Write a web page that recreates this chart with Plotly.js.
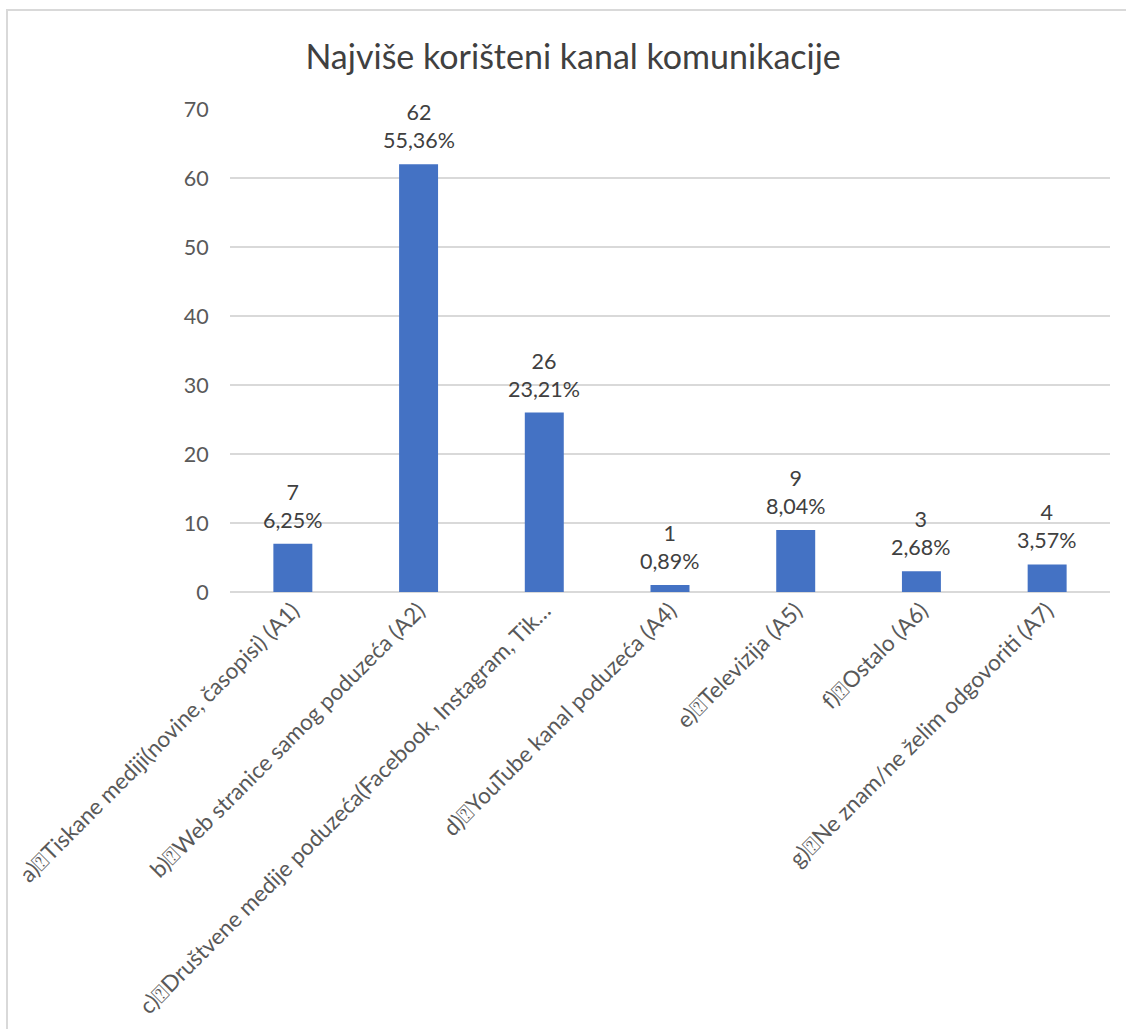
<!DOCTYPE html>
<html>
<head>
<meta charset="utf-8">
<script src="https://cdn.plot.ly/plotly-3.0.1.min.js"></script>
<style>
  html, body { margin: 0; padding: 0; width: 1126px; height: 1029px; overflow: hidden; background: #fff; }
  #frame { position: absolute; left: 6px; top: 9px; width: 1300px; height: 1200px; border: 2px solid #d9d9d9; box-sizing: border-box; }
  #chart { position: absolute; left: 0; top: 0; width: 1126px; height: 1029px; }
</style>
</head>
<body>
<div id="frame"></div>
<div id="chart"></div>
<script>
const chartTitle = "Najviše korišteni kanal komunikacije";
const categories = [
  "a)\u2370Tiskane mediji(novine, časopisi) (A1)",
  "b)\u2370Web stranice samog poduzeća (A2)",
  "c)\u2370Društvene medije poduzeća(Facebook, Instagram, Tik…",
  "d)\u2370YouTube kanal poduzeća (A4)",
  "e)\u2370Televizija (A5)",
  "f)\u2370Ostalo (A6)",
  "g)\u2370Ne znam/ne želim odgovoriti (A7)"
];
const counts = [7, 62, 26, 1, 9, 3, 4];
const percentLabels = ["6,25%", "55,36%", "23,21%", "0,89%", "8,04%", "2,68%", "3,57%"];
const yTicks = [0, 10, 20, 30, 40, 50, 60, 70];

const FONT = "Lato, 'Open Sans', sans-serif";

const trace = {
  type: "bar",
  x: categories,
  y: counts,
  width: 0.31,
  marker: { color: "#4472C4", line: { color: "#4472C4", width: 0 } },
  hoverinfo: "none"
};

const annotations = categories.map((c, i) => ({
  x: c,
  y: counts[i],
  xref: "x",
  yref: "y",
  text: counts[i] + "<br>" + percentLabels[i],
  showarrow: false,
  yanchor: "bottom",
  yshift: 9,
  font: { family: FONT, size: 21.5, color: "#404040" }
}));

const layout = {
  width: 1126,
  height: 1029,
  paper_bgcolor: "rgba(0,0,0,0)",
  plot_bgcolor: "rgba(0,0,0,0)",
  margin: { l: 230, r: 16, t: 109, b: 437 },
  showlegend: false,
  title: {
    text: chartTitle,
    xref: "container",
    yref: "container",
    x: 0.509,
    xanchor: "center",
    y: 0.9446,
    yanchor: "middle",
    font: { family: FONT, size: 34, color: "#404040", weight: 400 }
  },
  xaxis: {
    type: "category",
    tickangle: -45,
    tickfont: { family: FONT, size: 22.5, color: "#595959" },
    showgrid: false,
    showline: false,
    zeroline: false,
    ticks: ""
  },
  yaxis: {
    range: [0, 70],
    tickvals: yTicks,
    ticktext: yTicks.map(String),
    tickfont: { family: FONT, size: 21.5, color: "#595959" },
    showgrid: true,
    gridcolor: "#d9d9d9",
    gridwidth: 1.5,
    zeroline: true,
    zerolinecolor: "#d9d9d9",
    zerolinewidth: 1.5,
    showline: false,
    ticks: "outside",
    ticklen: 16,
    tickcolor: "rgba(0,0,0,0)"
  },
  annotations: annotations
};

Plotly.newPlot("chart", [trace], layout, { displayModeBar: false, staticPlot: true });
</script>
</body>
</html>
